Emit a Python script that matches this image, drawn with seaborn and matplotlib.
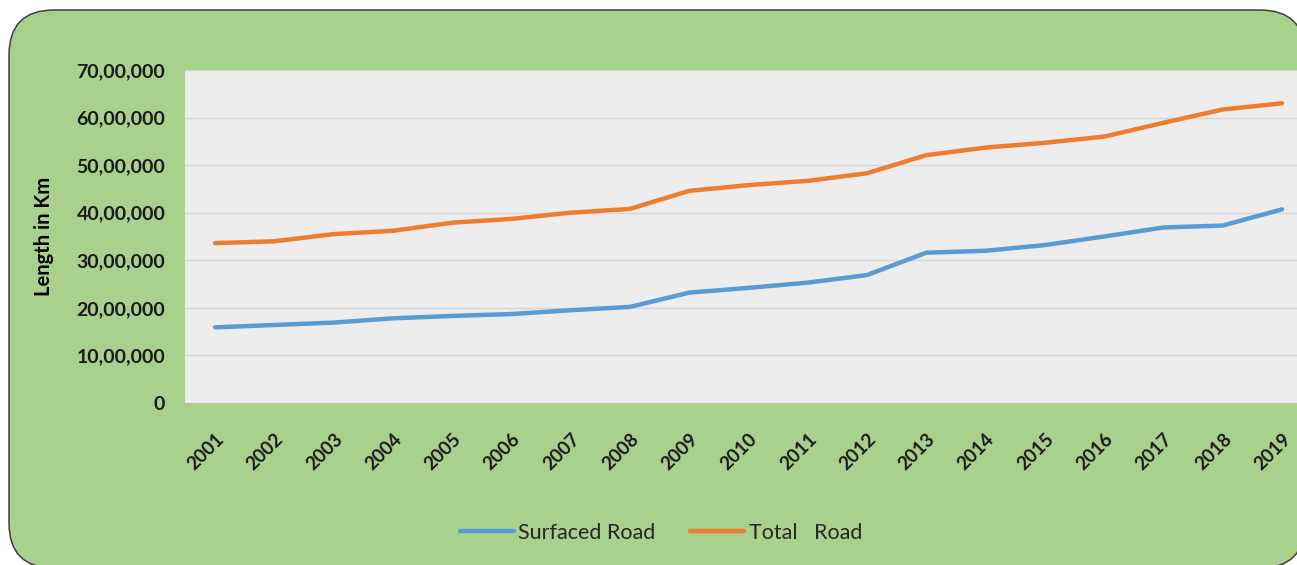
import numpy as np
import pandas as pd
import seaborn as sns
import matplotlib.pyplot as plt
from matplotlib.patches import FancyBboxPatch

years = list(range(2001, 2020))
surfaced = [1590000, 1640000, 1690000, 1780000, 1830000, 1870000, 1950000, 2020000,
            2320000, 2420000, 2530000, 2690000, 3160000, 3200000, 3320000, 3500000,
            3690000, 3730000, 4070000]
total = [3360000, 3400000, 3550000, 3620000, 3790000, 3870000, 4000000, 4080000,
         4460000, 4580000, 4670000, 4830000, 5210000, 5370000, 5470000, 5600000,
         5890000, 6170000, 6300000]
series_names = ["Surfaced Road", "Total   Road"]
y_ticks = [0, 1000000, 2000000, 3000000, 4000000, 5000000, 6000000, 7000000]
y_tick_labels = ["0", "10,00,000", "20,00,000", "30,00,000", "40,00,000",
                 "50,00,000", "60,00,000", "70,00,000"]

df = pd.DataFrame({
    "year": years * 2,
    "length": surfaced + total,
    "series": [series_names[0]] * len(years) + [series_names[1]] * len(years),
})

sns.set_style("white")
plt.rcParams["font.family"] = ["Lato", "DejaVu Sans"]

fig = plt.figure(figsize=(12.97, 5.65), dpi=100)
fig.patch.set_facecolor("white")

# rounded green panel behind everything (pixel coords)
box = FancyBboxPatch((9, -3), 1296, 558,
                     boxstyle="round,pad=0,rounding_size=45",
                     transform=None, facecolor="#A9D18E",
                     edgecolor="#404040", linewidth=1.1, zorder=-1)
fig.patches.append(box)

ax = fig.add_axes([185.4 / 1297, 1 - 403 / 565, 1126.2 / 1297, 333 / 565])
ax.set_facecolor("#EDEDED")

sns.lineplot(data=df, x="year", y="length", hue="series",
             palette=["#5B9BD5", "#ED7D31"], linewidth=3.2, ax=ax,
             solid_capstyle="round")

ax.set_xlim(2000.5, 2019.5)
ax.set_ylim(0, 7000000)
ax.set_yticks(y_ticks)
ax.set_yticklabels(y_tick_labels, fontsize=14, fontweight="bold", color="#1a1a1a")
ax.set_xticks(years)
ax.set_xticklabels([str(y) for y in years], rotation=45, ha="right",
                   rotation_mode="anchor", fontsize=13.5, fontweight="bold",
                   color="#1a1a1a")
ax.tick_params(axis="y", length=0, pad=14.5)
ax.tick_params(axis="x", length=0, pad=20)
ax.grid(axis="y", color="#D6D6D6", linewidth=1.0)
ax.set_axisbelow(True)
for s in ax.spines.values():
    s.set_visible(False)

ax.set_xlabel("")
ax.set_ylabel("Length in Km", fontsize=14.5, fontweight="bold", color="black")
ax.yaxis.set_label_coords(-0.117, 0.5)

handles, labels = ax.get_legend_handles_labels()
ax.get_legend().remove()
fig.legend(handles, labels, loc="center", ncol=2, frameon=False,
           bbox_to_anchor=(661 / 1297, 1 - 533 / 565), fontsize=15.5,
           handlelength=2.5, columnspacing=1.6, handletextpad=0.23)

fig.savefig("out.png", dpi=100)
